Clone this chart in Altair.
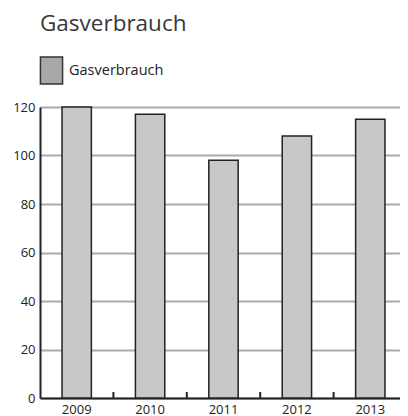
import altair as alt
import pandas as pd

chart_title = ["Gasverbrauch"]
years = ["2009", "2010", "2011", "2012", "2013"]
values = [120, 117, 98, 108, 115]
series = ["Gasverbrauch"] * len(years)
y_ticks = [0, 20, 40, 60, 80, 100, 120]

df = pd.DataFrame({"year": years, "value": values, "series": series})
title_df = pd.DataFrame({"t": chart_title})

FONT = "Open Sans"
W, H = 367, 291

x_enc = alt.X(
    "year:N",
    sort=years,
    scale=alt.Scale(paddingInner=0, paddingOuter=0),
    axis=alt.Axis(
        title=None, labelAngle=0, ticks=False, domain=True, domainColor="#222",
        domainWidth=2, labelFontSize=13, labelColor="#222", labelFont=FONT,
        labelPadding=5, grid=False,
    ),
)
y_enc = alt.Y(
    "value:Q",
    scale=alt.Scale(domain=[0, 120], nice=False),
    axis=alt.Axis(
        title=None, values=y_ticks, ticks=False, domain=True, domainColor="#222",
        domainWidth=2, grid=True, gridColor="#aaa", gridWidth=2,
        labelFontSize=13, labelColor="#222", labelFont=FONT, labelPadding=5,
    ),
)

bars = alt.Chart(df).mark_bar(
    width=alt.RelativeBandSize(0.4), stroke="#222", strokeWidth=1.5, fill="#c8c8c8"
).encode(x=x_enc, y=y_enc)

legend_layer = alt.Chart(df).transform_filter("false").mark_bar(
    stroke="#333", strokeWidth=1.5
).encode(
    x=alt.X("year:N", sort=years),
    y=alt.Y("value:Q"),
    color=alt.Color(
        "series:N",
        scale=alt.Scale(domain=["Gasverbrauch"], range=["#a8a8a8"]),
        legend=alt.Legend(
            title=None, orient="none", legendX=-3, legendY=-51,
            symbolType="M-0.82,-1H0.82V1H-0.82Z", symbolSize=729,
            symbolStrokeColor="#333", symbolStrokeWidth=1.5,
            labelFontSize=14.5, labelFont=FONT, labelColor="#222", labelOffset=3,
        ),
    ),
)

ticks = alt.Chart(df).mark_rule(color="#222", strokeWidth=2).encode(
    x=alt.X("year:N", sort=years, bandPosition=1),
    y=alt.value(H - 6),
    y2=alt.value(H),
)

title_text = alt.Chart(title_df).mark_text(
    align="left", baseline="alphabetic", fontSize=22.5, font=FONT, color="#383838"
).encode(text="t:N", x=alt.value(0), y=alt.value(-76))

chart = alt.layer(bars, legend_layer, ticks, title_text).properties(
    width=W, height=H,
    autosize=alt.AutoSizeParams(type="none"),
    padding={"left": 32, "top": 99, "right": -7, "bottom": 30},
).configure_view(stroke=None)

chart.save("out.html", embed_options={"renderer": "svg", "actions": False})
